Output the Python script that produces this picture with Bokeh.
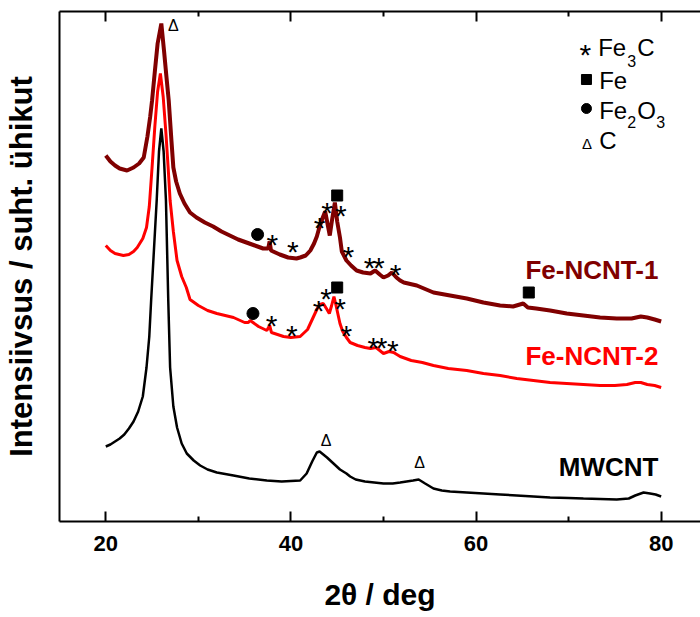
import math
from bokeh.plotting import figure
from bokeh.models import Range1d, LinearAxis, FixedTicker
from bokeh.core.properties import value
from bokeh.embed import file_html
from bokeh.resources import INLINE

# ---------------- data ----------------
mwcnt_x = [20.0, 20.5, 21.0, 21.5, 22.0, 22.5, 23.0, 23.5, 24.0, 24.4, 24.7, 24.9, 25.2, 25.5, 25.75,
           26.0, 26.25, 26.5, 26.75, 26.95, 27.3, 27.7, 28.2, 28.75, 29.5, 30.2, 31.0, 32.0, 33.8, 35.5,
           37.4, 39.0, 41.0, 41.7, 42.3, 42.8, 43.1, 43.5, 43.9, 44.6, 45.3, 46.0, 46.4, 47.0, 48.0,
           49.0, 50.0, 51.0, 51.8, 52.5, 53.2, 53.8, 54.5, 55.4, 56.3, 57.2, 59.0, 60.8, 62.6, 64.4,
           66.2, 68.0, 70.0, 71.6, 73.4, 75.2, 76.5, 77.2, 78.1, 78.8, 79.4, 80.0]
mwcnt_y = [75, 77, 80, 83, 87, 93, 100, 110, 125, 154, 185, 221, 271, 321, 370,
           393, 370, 321, 221, 154, 115, 94, 78, 68, 61, 56, 52, 49, 46, 43,
           41, 40, 41, 48, 60, 69, 70, 67, 64, 58, 52, 48, 45, 42, 40,
           39, 38, 38, 39, 40, 41, 42, 38, 33, 31, 30, 29, 28, 27, 26,
           25, 24, 23.5, 23, 22.5, 22, 23, 26, 29, 28, 27, 25]

ncnt2_x = [20.0, 20.5, 21.0, 21.9, 22.5, 23.0, 23.4, 24.0, 24.4, 24.7, 25.0, 25.3, 25.6, 25.9, 26.2,
           26.5, 26.75, 26.95, 27.3, 27.7, 28.2, 28.7, 29.1, 30.0, 31.0, 32.0, 33.8, 35.0, 35.4, 35.6,
           36.5, 37.4, 37.7, 37.9, 39.2, 40.0, 41.0, 41.8, 42.4, 42.8, 43.1, 43.5, 43.9, 44.15, 44.4,
           44.65, 44.9, 45.3, 45.6, 46.0, 46.4, 47.2, 48.0, 48.6, 49.2, 50.0, 50.6, 51.1, 51.8, 53.0,
           54.2, 55.4, 57.0, 59.0, 60.8, 62.6, 64.4, 66.2, 68.0, 69.8, 71.6, 73.4, 75.0, 76.3, 77.2,
           77.8, 78.5, 79.3, 80.0]
ncnt2_y = [276, 271, 268, 266, 267, 270, 274, 283, 294, 315, 354, 395, 430, 448, 425,
           388, 352, 321, 290, 261, 245, 234, 222, 216, 211, 208, 204, 199, 199, 201,
           195, 191, 196, 189, 185, 184, 185, 192, 204, 212, 217, 218, 212, 208, 216,
           225, 215, 198, 190, 184, 179, 176, 174, 173, 174, 168, 170, 169, 165, 161,
           159, 156, 153, 151, 148, 146, 143, 141, 139, 138, 137, 136, 136, 137, 139,
           139, 137, 136, 134]

ncnt1_x = [20.0, 20.5, 21.0, 21.5, 22.3, 23.0, 23.6, 24.1, 24.5, 24.8, 25.0, 25.3, 25.6, 26.0, 26.3,
           26.55, 26.8, 27.1, 27.3, 27.6, 28.0, 28.5, 29.1, 29.8, 30.7, 31.6, 32.5, 33.4, 34.3, 35.2,
           36.1, 37.0, 37.55, 37.7, 37.85, 38.8, 39.7, 40.6, 41.0, 41.6, 42.1, 42.5, 42.8, 43.1, 43.4,
           43.7, 43.95, 44.2, 44.45, 44.75, 45.0, 45.3, 45.5, 46.0, 46.5, 47.1, 47.8, 48.6, 49.1, 49.6,
           50.0, 50.5, 50.9, 51.4, 51.8, 52.2, 53.6, 55.4, 57.2, 59.0, 60.8, 62.6, 64.0, 65.1, 65.6,
           66.5, 68.0, 69.8, 71.6, 73.4, 75.2, 76.8, 77.8, 78.5, 79.3, 80.0]
ncnt1_y = [366, 360, 356, 353, 351, 354, 358, 364, 385, 405, 421, 450, 478, 498, 470,
           445, 421, 380, 354, 340, 328, 318, 309, 304, 299, 295, 290, 286, 282, 279,
           276, 273, 273, 280, 271, 267, 264, 263, 264, 266, 271, 278, 285, 295, 303,
           310, 298, 286, 302, 319, 300, 284, 270, 261, 256, 251, 249, 248, 251, 247,
           244, 246, 249, 244, 241, 239, 236, 229, 226, 223, 219, 216, 215, 218, 214,
           213, 211, 208, 206, 204, 203, 203, 205, 204, 202, 200]

# phase markers (peak positions)
fe3c_x = [38.0, 40.2, 43.1, 43.9, 45.4, 46.2, 48.5, 49.5, 51.3,
          37.9, 40.1, 43.0, 43.8, 45.3, 46.0, 48.9, 49.8, 51.0]
fe3c_y = [284, 277, 301, 316, 313, 272, 261, 261, 254,
          203, 193, 218, 230, 220, 193, 181, 181, 178]
fe_x = [45.0, 65.7, 45.0]
fe_y = [326, 229, 234]
fe2o3_x = [36.4, 35.9]
fe2o3_y = [287, 208]
c_x = [27.3, 43.8, 53.9]
c_y = [496, 81, 59]

series_names = ["Fe-NCNT-1", "Fe-NCNT-2", "MWCNT"]
series_label_y = [251.5, 166, 55]
x_ticks = [20, 40, 60, 80]
x_minor = [30, 50, 70]

FONT = "Liberation Sans"
DARKRED = "#800000"
RED = "#ff0000"

p = figure(width=700, height=617, x_range=Range1d(15, 84.25), y_range=Range1d(0, 510),
           output_backend="svg", toolbar_location=None,
           min_border_left=59, min_border_right=0, min_border_top=11, min_border_bottom=96)
p.grid.visible = False
p.outline_line_color = None
p.background_fill_color = "white"
p.border_fill_color = "white"

ticker = FixedTicker(ticks=x_ticks, minor_ticks=x_minor)

def style_x(ax, labels=True):
    ax.ticker = ticker
    ax.axis_line_width = 2
    ax.axis_line_color = "black"
    ax.major_tick_in = 10
    ax.major_tick_out = 0
    ax.minor_tick_in = 5
    ax.minor_tick_out = 0
    ax.major_tick_line_width = 2
    ax.minor_tick_line_width = 2
    ax.major_label_text_font = FONT
    ax.major_label_text_font_style = "bold"
    ax.major_label_text_color = "black"
    ax.major_label_text_font_size = "22px"
    if labels:
        ax.major_label_standoff = 14
    else:
        ax.major_label_overrides = {t: "" for t in x_ticks}
        ax.major_label_standoff = 0

xa = p.xaxis[0]
style_x(xa)
xa.axis_label = "2θ / deg"
xa.axis_label_text_font = FONT
xa.axis_label_text_font_size = "30px"
xa.axis_label_text_font_style = "bold"
xa.axis_label_text_color = "black"
xa.axis_label_standoff = 24

top = LinearAxis()
style_x(top, labels=False)
p.add_layout(top, "above")

ya = p.yaxis[0]
ya.ticker = FixedTicker(ticks=[])
ya.major_tick_in = 0
ya.major_tick_out = 0
ya.minor_tick_in = 0
ya.minor_tick_out = 0
ya.major_label_standoff = 0
ya.axis_line_width = 2
ya.axis_line_color = "black"
ya.axis_label = "Intensiivsus / suht. ühikut"
ya.axis_label_text_font = FONT
ya.axis_label_text_font_size = "31px"
ya.axis_label_text_font_style = "bold"
ya.axis_label_text_color = "black"
ya.axis_label_standoff = 21

# curves
p.line(ncnt1_x, ncnt1_y, line_color=DARKRED, line_width=4)
p.line(ncnt2_x, ncnt2_y, line_color=RED, line_width=3)
p.line(mwcnt_x, mwcnt_y, line_color="black", line_width=2.5)

# markers
p.text(fe3c_x, fe3c_y, text=["*"] * len(fe3c_x), text_font=value(FONT), text_font_size="30px",
       text_align="center", text_baseline="middle", y_offset=7, text_color="black")
p.scatter(fe_x, fe_y, marker="square", size=11, fill_color="black", line_color="black")
p.scatter(fe2o3_x, fe2o3_y, marker="circle", size=12, fill_color="black", line_color="black")
p.text(c_x, c_y, text=["Δ"] * len(c_x), text_font=value(FONT), text_font_size="16px",
       text_align="center", text_baseline="middle", text_color="black")

# series names
p.text([79.7] * 3, series_label_y, text=series_names, text_font=value(FONT), text_font_size="26px",
       text_font_style="bold", text_align="right", text_baseline="middle",
       text_color=[DARKRED, RED, "black"])

# legend (manual)
p.text([71.82], [474], text=["*"], text_font=value(FONT), text_font_size="30px",
       text_align="center", text_baseline="middle", y_offset=7, text_color="black")
p.scatter([71.93], [442], marker="square", size=10, fill_color="black", line_color="black")
p.scatter([71.93], [413], marker="circle", size=10, fill_color="black", line_color="black")
p.text([72.0], [378], text=["Δ"], text_font=value(FONT), text_font_size="15px",
       text_align="center", text_baseline="middle", text_color="black")
big = dict(text_font=value(FONT), text_font_size="24px", text_align="left",
           text_baseline="middle", text_color="black")
small = dict(text_font=value(FONT), text_font_size="16px", text_align="left",
             text_baseline="middle", text_color="black")
p.text([73.19, 77.41, 73.30, 73.30, 77.41, 73.30], [474, 474, 441.5, 411.5, 411.5, 381],
       text=["Fe", "C", "Fe", "Fe", "O", "C"], **big)
p.text([76.33, 76.33, 79.46], [461, 399.5, 399.5], text=["3", "2", "3"], **small)

open("out.html", "w").write(file_html(p, INLINE))
